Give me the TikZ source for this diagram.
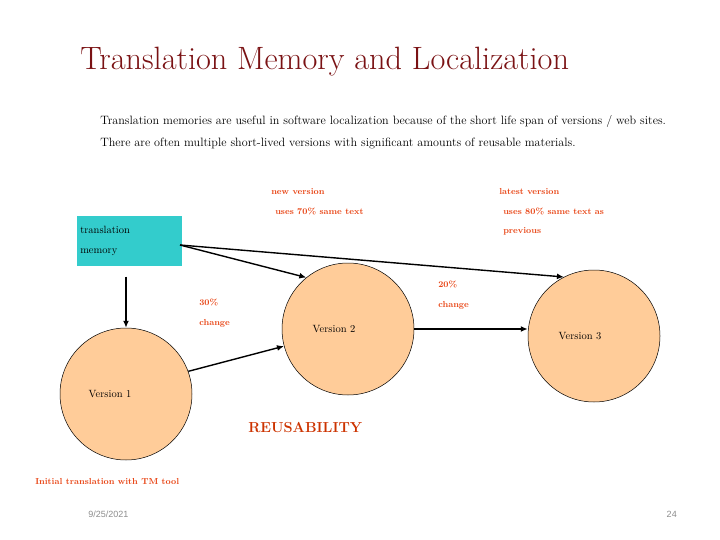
\documentclass[tikz,border=0pt]{standalone}
\usepackage{fontspec}
\newfontfamily\footfont{Liberation Sans}
\usetikzlibrary{arrows.meta,positioning}
\definecolor{tmteal}{RGB}{51,204,204}
\definecolor{peach}{RGB}{255,204,153}
\definecolor{notered}{RGB}{232,68,20}
\definecolor{reusered}{RGB}{204,51,0}
\definecolor{titlered}{RGB}{122,18,20}
\definecolor{footgray}{RGB}{140,140,140}
\tikzset{every picture/.style={line width=0.5pt}}

\begin{document}
\begin{tikzpicture}[x=1pt, y=-1pt, font=\fontsize{10.5}{20}\selectfont]
    \tikzset{
        version/.style={draw, circle, fill=peach, minimum size=132pt, inner sep=0pt},
        note/.style={text=notered, font=\fontsize{8.7}{19.5}\selectfont\bfseries, anchor=west, align=left, inner sep=0pt},
        flow/.style={-{Latex[length=7pt,width=6pt]}, line width=1.4pt}
    }
    \useasboundingbox (0,0) rectangle (720,540);

    \node[anchor=west, inner sep=0pt, text=titlered, font=\fontsize{32.3}{34}\selectfont] (title) at (80,62) {Translation Memory and Localization};
    \node[anchor=west, inner sep=0pt, align=left, font=\fontsize{12.1}{22}\selectfont] (intro) at (100,132)
        {Translation memories are useful in software localization because of the short life span of versions / web sites.\\
         There are often multiple short-lived versions with significant amounts of reusable materials.};

    \node[fill=tmteal, anchor=north west, minimum width=105pt, minimum height=50pt, text width=99pt, inner xsep=3pt, align=left] (TM) at (77,216) {translation\\memory};

    \node[version, label={[xshift=-16pt]center:Version 1}] (V1) at (126,394) {};
    \node[version, label={[xshift=-14pt]center:Version 2}] (V2) at (348,329) {};
    \node[version, label={[xshift=-14pt]center:Version 3}] (V3) at (594,336) {};

    \coordinate (TMout) at (180,245);
    \draw[flow, shorten <=10pt] (TM.south -| V1.north) -- (V1.north);
    \draw[flow] (TMout) -- (V2.129);
    \draw[flow] (TMout) -- (V3.117);
    \draw[flow] (V1.20) -- (V2.195);
    \draw[flow] (V2.east) -- (V2.east -| V3.west);

    \node[note] (newv) at (271,202) {new version\\\hspace*{4pt}uses 70\% same text};
    \node[note] (latest) at (499,212) {latest version\\\hspace*{4pt}uses 80\% same text as\\\hspace*{4pt}previous};
    \node[note] (chg30) at (199,313) {30\%\\change};
    \node[note] (chg20) at (438,295) {20\%\\change};

    \node[anchor=west, inner sep=0pt, text=reusered, font=\fontsize{14.5}{16}\selectfont\bfseries] (reuse) at (248,428) {REUSABILITY};
    \node[note] (initial) at (35,482) {Initial translation with TM tool};

    \node[anchor=west, inner sep=0pt, text=footgray, font=\fontsize{9}{10}\footfont] (date) at (88,514) {9/25/2021};
    \node[anchor=east, inner sep=0pt, text=footgray, font=\fontsize{9}{10}\footfont] (page) at (677,514) {24};
\end{tikzpicture}
\end{document}
